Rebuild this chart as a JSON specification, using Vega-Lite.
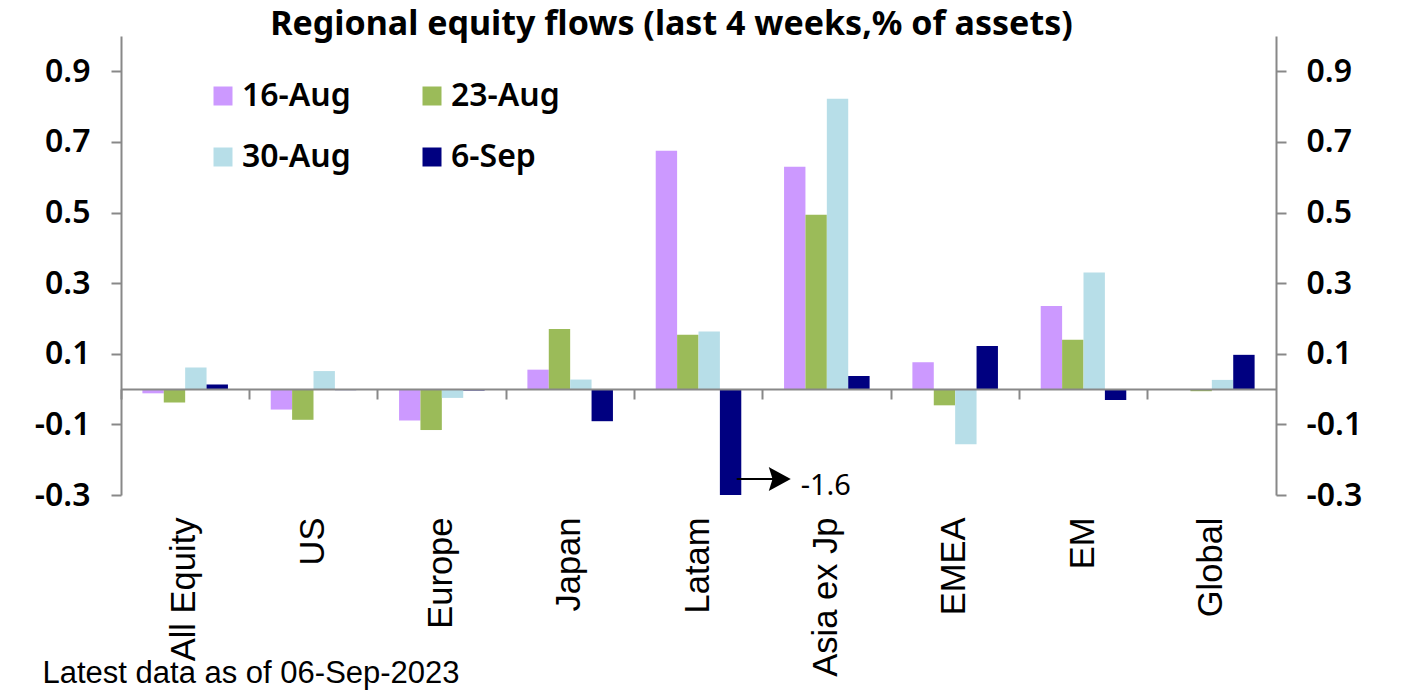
{
  "$schema": "https://vega.github.io/schema/vega-lite/v6.json",
  "width": 1155,
  "height": 459,
  "autosize": {"type": "none"},
  "padding": {"left": 121, "top": 36, "right": 134, "bottom": 201},
  "background": "white",
  "title": {
    "text": "Regional equity flows (last 4 weeks,% of assets)",
    "font": "Noto Sans",
    "fontSize": 34,
    "fontWeight": "bold",
    "color": "black",
    "anchor": "middle",
    "baseline": "alphabetic",
    "offset": -33,
    "dx": -27
  },
  "config": {"view": {"stroke": null}, "axis": {"grid": false}},
  "data": {
    "values": [
      {"region": "All Equity", "series": "16-Aug", "value": -0.012},
      {"region": "All Equity", "series": "23-Aug", "value": -0.038},
      {"region": "All Equity", "series": "30-Aug", "value": 0.061},
      {"region": "All Equity", "series": "6-Sep", "value": 0.013},
      {"region": "US", "series": "16-Aug", "value": -0.058},
      {"region": "US", "series": "23-Aug", "value": -0.087},
      {"region": "US", "series": "30-Aug", "value": 0.051},
      {"region": "US", "series": "6-Sep", "value": -0.003},
      {"region": "Europe", "series": "16-Aug", "value": -0.089},
      {"region": "Europe", "series": "23-Aug", "value": -0.116},
      {"region": "Europe", "series": "30-Aug", "value": -0.025},
      {"region": "Europe", "series": "6-Sep", "value": -0.004},
      {"region": "Japan", "series": "16-Aug", "value": 0.055},
      {"region": "Japan", "series": "23-Aug", "value": 0.17},
      {"region": "Japan", "series": "30-Aug", "value": 0.027},
      {"region": "Japan", "series": "6-Sep", "value": -0.091},
      {"region": "Latam", "series": "16-Aug", "value": 0.675},
      {"region": "Latam", "series": "23-Aug", "value": 0.154},
      {"region": "Latam", "series": "30-Aug", "value": 0.163},
      {"region": "Latam", "series": "6-Sep", "value": -1.6},
      {"region": "Asia ex Jp", "series": "16-Aug", "value": 0.63},
      {"region": "Asia ex Jp", "series": "23-Aug", "value": 0.494},
      {"region": "Asia ex Jp", "series": "30-Aug", "value": 0.822},
      {"region": "Asia ex Jp", "series": "6-Sep", "value": 0.037},
      {"region": "EMEA", "series": "16-Aug", "value": 0.076},
      {"region": "EMEA", "series": "23-Aug", "value": -0.046},
      {"region": "EMEA", "series": "30-Aug", "value": -0.156},
      {"region": "EMEA", "series": "6-Sep", "value": 0.122},
      {"region": "EM", "series": "16-Aug", "value": 0.235},
      {"region": "EM", "series": "23-Aug", "value": 0.14},
      {"region": "EM", "series": "30-Aug", "value": 0.33},
      {"region": "EM", "series": "6-Sep", "value": -0.031},
      {"region": "Global", "series": "16-Aug", "value": 0.0},
      {"region": "Global", "series": "23-Aug", "value": -0.006},
      {"region": "Global", "series": "30-Aug", "value": 0.026},
      {"region": "Global", "series": "6-Sep", "value": 0.097}
    ]
  },
  "layer": [
    {
      "mark": {"type": "bar"},
      "encoding": {
        "x": {
          "field": "region", "type": "nominal",
          "sort": ["All Equity", "US", "Europe", "Japan", "Latam", "Asia ex Jp", "EMEA", "EM", "Global"],
          "scale": {"paddingInner": 0, "paddingOuter": 0},
          "axis": {
            "orient": "bottom", "domain": false, "ticks": false, "labelAngle": -90,
            "labelFont": "Liberation Sans", "labelFontSize": 34.5, "labelColor": "black",
            "labelPadding": 22, "labelLimit": 300,
            "title": "Latest data as of 06-Sep-2023",
            "titleFont": "Liberation Sans", "titleFontSize": 31, "titleFontWeight": "normal",
            "titleColor": "black", "titleAnchor": "start", "titleAlign": "left",
            "titleBaseline": "alphabetic", "titleX": -79, "titleY": 187
          }
        },
        "xOffset": {
          "field": "series", "type": "nominal",
          "sort": ["16-Aug", "23-Aug", "30-Aug", "6-Sep"],
          "scale": {"paddingInner": 0, "paddingOuter": 1.43}
        },
        "y": {
          "field": "value", "type": "quantitative",
          "scale": {"domain": [-0.3, 1.0], "clamp": true, "nice": false, "zero": false},
          "axis": {
            "orient": "left", "values": [-0.3, -0.1, 0.1, 0.3, 0.5, 0.7, 0.9],
            "labelExpr": "datum.value < 0 ? '-' + format(-datum.value, '.1f') : format(datum.value, '.1f')",
            "domainColor": "#888888", "domainWidth": 2, "tickColor": "#888888", "tickWidth": 2,
            "tickSize": 10, "labelFont": "Noto Sans", "labelFontSize": 32, "labelFontWeight": 600,
            "labelColor": "black", "labelPadding": 21, "title": null
          }
        },
        "color": {
          "field": "series", "type": "nominal",
          "scale": {"domain": ["16-Aug", "23-Aug", "30-Aug", "6-Sep"], "range": ["#CC99FF", "#9BBB59", "#B7DEE8", "#000080"]},
          "legend": {
            "orient": "none", "legendX": 86, "legendY": 44, "direction": "horizontal", "columns": 2,
            "title": null, "symbolType": "square", "symbolSize": 361, "symbolStrokeWidth": 0,
            "labelFont": "Noto Sans", "labelFontSize": 32, "labelFontWeight": 600, "labelColor": "black",
            "labelOffset": 3, "columnPadding": 65, "rowPadding": 29, "padding": 0, "labelLimit": 300
          }
        }
      }
    },
    {
      "mark": {"type": "bar", "opacity": 0},
      "encoding": {
        "x": {
          "field": "region", "type": "nominal",
          "sort": ["All Equity", "US", "Europe", "Japan", "Latam", "Asia ex Jp", "EMEA", "EM", "Global"],
          "scale": {"paddingInner": 0, "paddingOuter": 0},
          "axis": {
            "orient": "bottom", "offset": -106, "bandPosition": 0, "labels": false,
            "domainColor": "#888888", "domainWidth": 2, "tickColor": "#888888", "tickWidth": 2,
            "tickSize": 10, "title": null, "zindex": 1
          }
        },
        "y": {
          "field": "value", "type": "quantitative",
          "scale": {"domain": [-0.3, 1.0], "clamp": true, "nice": false, "zero": false},
          "axis": {
            "orient": "right", "values": [-0.3, -0.1, 0.1, 0.3, 0.5, 0.7, 0.9],
            "labelExpr": "datum.value < 0 ? '-' + format(-datum.value, '.1f') : format(datum.value, '.1f')",
            "domainColor": "#888888", "domainWidth": 2, "tickColor": "#888888", "tickWidth": 2,
            "tickSize": 10, "labelFont": "Noto Sans", "labelFontSize": 32, "labelFontWeight": 600,
            "labelColor": "black", "labelPadding": 20, "title": null
          }
        }
      }
    },
    {
      "data": {"values": [{"region": "Latam", "value": -1.6, "label": "-1.6"}]},
      "mark": {
        "type": "point", "shape": "M -1 0 L 0.55 0 M 0.3 -0.38 L 1 0 L 0.3 0.38 L 0.42 0 Z",
        "size": 2704, "filled": true, "fill": "black", "stroke": "black", "strokeWidth": 2,
        "opacity": 1, "yOffset": -16
      },
      "encoding": {
        "x": {"field": "region", "type": "nominal", "bandPosition": 1,
              "sort": ["All Equity", "US", "Europe", "Japan", "Latam", "Asia ex Jp", "EMEA", "EM", "Global"],
              "scale": {"paddingInner": 0, "paddingOuter": 0}, "axis": null},
        "y": {"field": "value", "type": "quantitative",
              "scale": {"domain": [-0.3, 1.0], "clamp": true, "nice": false, "zero": false}, "axis": null}
      }
    },
    {
      "data": {"values": [{"region": "Latam", "value": -1.6, "label": "-1.6"}]},
      "mark": {"type": "text", "font": "Noto Sans", "fontSize": 29, "align": "left", "baseline": "alphabetic", "dx": 38, "color": "black"},
      "encoding": {
        "x": {"field": "region", "type": "nominal", "bandPosition": 1,
              "sort": ["All Equity", "US", "Europe", "Japan", "Latam", "Asia ex Jp", "EMEA", "EM", "Global"],
              "scale": {"paddingInner": 0, "paddingOuter": 0}, "axis": null},
        "y": {"field": "value", "type": "quantitative",
              "scale": {"domain": [-0.3, 1.0], "clamp": true, "nice": false, "zero": false}, "axis": null},
        "text": {"field": "label"}
      }
    }
  ],
  "resolve": {"axis": {"x": "independent", "y": "independent"}}
}
